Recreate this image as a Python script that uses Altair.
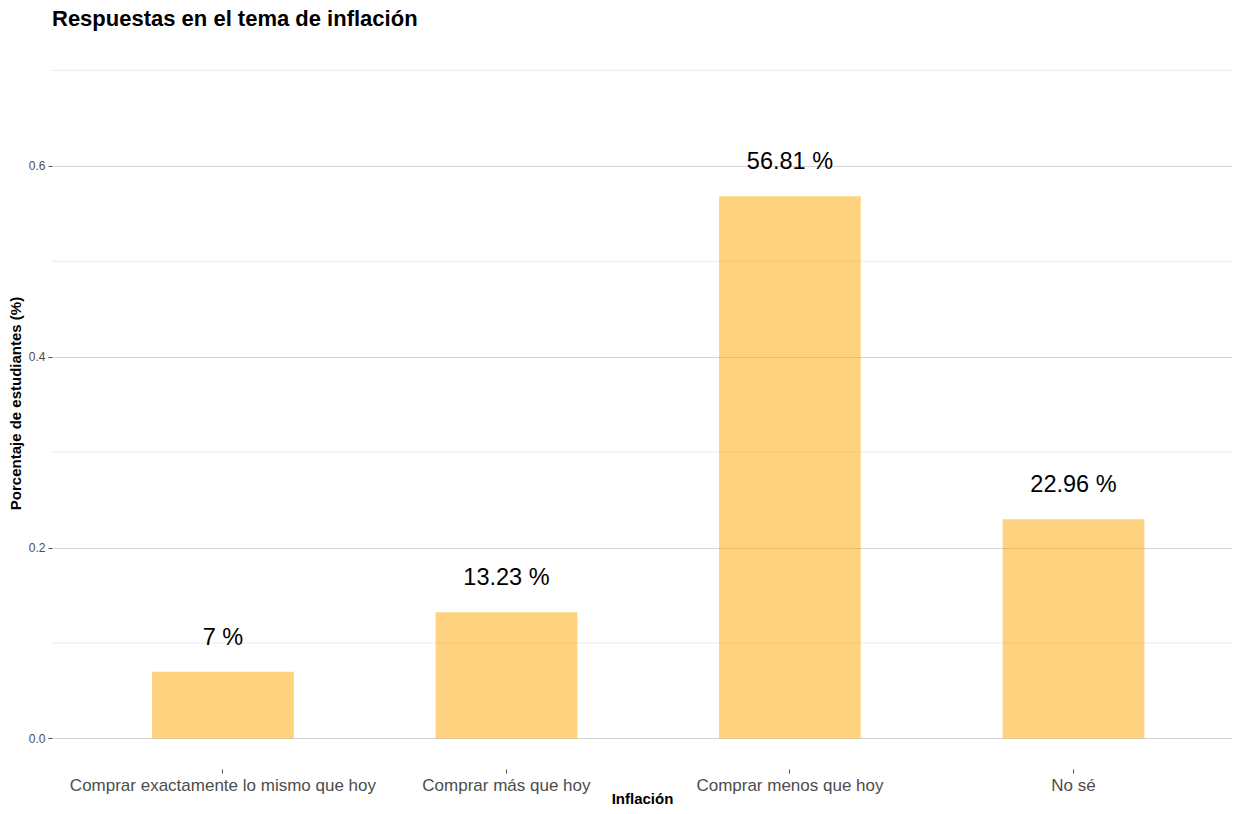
import altair as alt
import pandas as pd

categories = [
    "Comprar exactamente lo mismo que hoy",
    "Comprar más que hoy",
    "Comprar menos que hoy",
    "No sé",
]
shares = [0.07, 0.1323, 0.5681, 0.2296]
labels = [f"{round(v * 100, 2):g} %" for v in shares]
major_ticks = [0.0, 0.2, 0.4, 0.6]
minor_ticks = [0.1, 0.3, 0.5, 0.7]

df = pd.DataFrame({"cat": categories, "share": shares, "label": labels})
minor_df = pd.DataFrame({"minor": minor_ticks})

FONT = "Liberation Sans"

xscale = alt.Scale(domain=categories, paddingInner=0.5, paddingOuter=0.331, align=0.533)
yscale = alt.Scale(domain=[-0.032, 0.735], nice=False, zero=False)

x_axis = alt.Axis(
    title="Inflación",
    labelAngle=0,
    grid=False,
    domain=False,
    ticks=True,
    tickSize=4,
    tickColor="#4d4d4d",
    labelFontSize=17,
    labelColor="#4d4d4d",
    labelPadding=4,
    labelLimit=0,
    labelOverlap=False,
    titleFontSize=15,
    titleFontWeight="bold",
    titleColor="black",
    titlePadding=-2,
)

y_axis = alt.Axis(
    title="Porcentaje de estudiantes (%)",
    values=major_ticks,
    format=".1f",
    domain=False,
    grid=True,
    gridColor="#d4d4d4",
    gridWidth=1,
    tickSize=4,
    tickColor="#4d4d4d",
    labelFontSize=12,
    labelColor="#4d4d4d",
    labelPadding=3,
    titleFontSize=15,
    titleFontWeight="bold",
    titleColor="black",
    titlePadding=5,
)

minor = alt.Chart(minor_df).mark_rule(color="#ebebeb", strokeWidth=1).encode(
    y=alt.Y("minor:Q", scale=yscale, axis=y_axis)
)

bars = alt.Chart(df).mark_bar(color="#FFA500", opacity=0.5).encode(
    x=alt.X("cat:N", scale=xscale, sort=categories, axis=x_axis),
    y=alt.Y("share:Q", scale=yscale, axis=y_axis),
)

text = alt.Chart(df).mark_text(
    dy=-27, baseline="alphabetic", fontSize=23.5, color="black", font=FONT
).encode(
    x=alt.X("cat:N", scale=xscale, sort=categories, axis=x_axis),
    y=alt.Y("share:Q", scale=yscale, axis=y_axis),
    text="label:N",
)

chart = (
    alt.layer(minor, bars, text)
    .properties(
        width=1180,
        height=732,
        padding=0,
        title=alt.TitleParams(
            "Respuestas en el tema de inflación",
            anchor="start",
            frame="group",
            fontSize=22,
            fontWeight="bold",
            color="black",
            font=FONT,
            offset=6,
        ),
    )
    .configure_view(stroke=None)
    .configure_axis(labelFont=FONT, titleFont=FONT)
)

chart.save("out.html", embed_options={"renderer": "svg", "actions": False})
